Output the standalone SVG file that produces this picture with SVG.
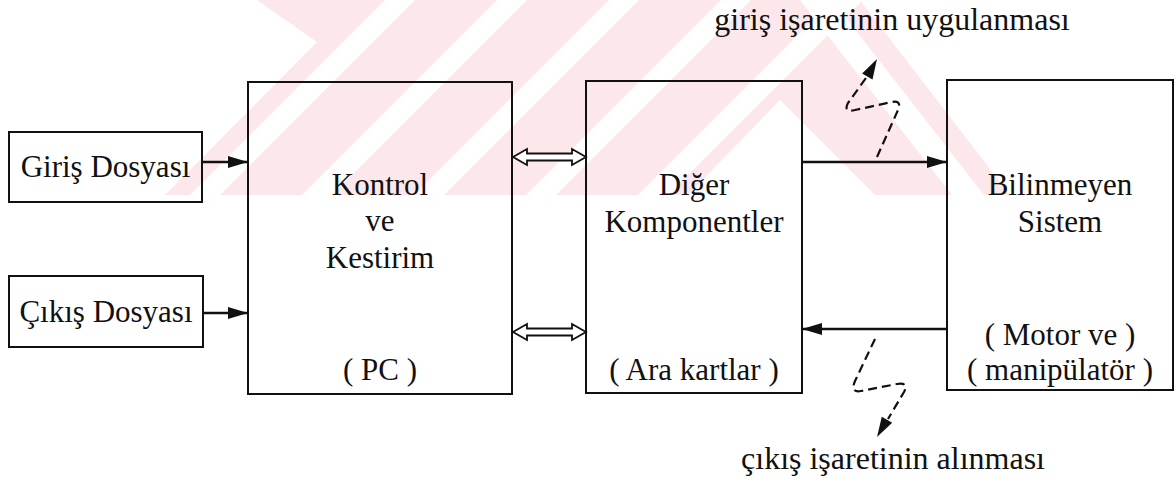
<svg xmlns="http://www.w3.org/2000/svg" width="1176" height="488" viewBox="0 0 1176 488">
<defs>
<style>
.box{fill:none;stroke:#111;stroke-width:2}
text{font-family:'Liberation Serif','Times New Roman',serif;fill:#111;text-anchor:middle}
.t{font-size:31px}
.lbl{font-size:32px}
.ln{stroke:#111;stroke-width:2.4;fill:none}
.dash{stroke:#111;stroke-width:2.2;fill:none;stroke-dasharray:9 5;stroke-linejoin:round}
.dbl{fill:#fff;stroke:#111;stroke-width:1.8;stroke-linejoin:miter}
.wm{fill:#fce8eb}
</style>
<marker id="ah" markerWidth="20" markerHeight="12" refX="20" refY="6" orient="auto" markerUnits="userSpaceOnUse">
<path d="M0,0 L20,6 L0,12 Z" fill="#111"/>
</marker>
<clipPath id="wmclip">
<polygon points="257,0 317,42 165,195 1010,195 860,0"/>
</clipPath>
</defs>
<rect width="1176" height="488" fill="#fff"/>
<g id="watermark" clip-path="url(#wmclip)">
<rect x="0" y="0" width="1176" height="195" class="wm"/>
<g fill="#fff">
<polygon points="190,195 220,195 415,0 385,0"/>
<polygon points="302,195 332,195 527,0 497,0"/>
<polygon points="414,195 444,195 639,0 609,0"/>
<polygon points="526,195 556,195 751,0 721,0"/>
<polygon points="638,195 668,195 863,0 833,0"/>
<polygon points="780,100 688,195 875,195"/>
<polygon points="800,0 832,0 984,195 952,195"/>
</g>
</g>
<g id="n-giris"><rect class="box" x="9" y="132" width="193" height="70"/><text class="t" x="105.5" y="177">Giriş Dosyası</text></g>
<g id="n-cikis"><rect class="box" x="9" y="276" width="194" height="71"/><text class="t" x="106" y="322">Çıkış Dosyası</text></g>
<g id="n-kontrol"><rect class="box" x="248" y="82" width="264" height="312"/>
<text class="t" x="380" y="195">Kontrol</text><text class="t" x="380" y="231">ve</text><text class="t" x="380" y="268">Kestirim</text><text class="t" x="380" y="380">( PC )</text></g>
<g id="n-diger"><rect class="box" x="586" y="81" width="216" height="312"/>
<text class="t" x="694" y="195">Diğer</text><text class="t" x="694" y="232">Komponentler</text><text class="t" x="694" y="380">( Ara kartlar )</text></g>
<g id="n-bilinmeyen"><rect class="box" x="947" y="80" width="226" height="310"/>
<text class="t" x="1060" y="195">Bilinmeyen</text><text class="t" x="1060" y="232">Sistem</text><text class="t" x="1060" y="345">( Motor ve )</text><text class="t" x="1060" y="380">( manipülatör )</text></g>
<g id="connectors">
<line class="ln" x1="202" y1="162" x2="248" y2="162" marker-end="url(#ah)"/>
<line class="ln" x1="203" y1="313" x2="248" y2="313" marker-end="url(#ah)"/>
<line class="ln" x1="802" y1="162" x2="947" y2="162" marker-end="url(#ah)"/>
<line class="ln" x1="947" y1="329" x2="802" y2="329" marker-end="url(#ah)"/>
<polygon class="dbl" points="513,157 527,149 527,153.5 572,153.5 572,149 586,157 572,165 572,160.5 527,160.5 527,165"/>
<polygon class="dbl" points="513,332 527,324 527,328.5 572,328.5 572,324 586,332 572,340 572,335.5 527,335.5 527,340"/>
<path class="dash" d="M877,157 L898,110 Q902,100 892,102 L855,110 Q843,113 848,103 L866,78"/>
<polygon points="877,59 872.5,79.4 862.1,73.6" fill="#111"/>
<path class="dash" d="M875,339 L855,381 Q850,393 861,391 L897,384 Q909,382 904,392 L888,419"/>
<polygon points="877,437 892.2,422.7 881.8,416.7" fill="#111"/>
</g>
<text class="lbl" x="892" y="30">giriş işaretinin uygulanması</text>
<text class="lbl" x="893" y="469">çıkış işaretinin alınması</text>
</svg>
